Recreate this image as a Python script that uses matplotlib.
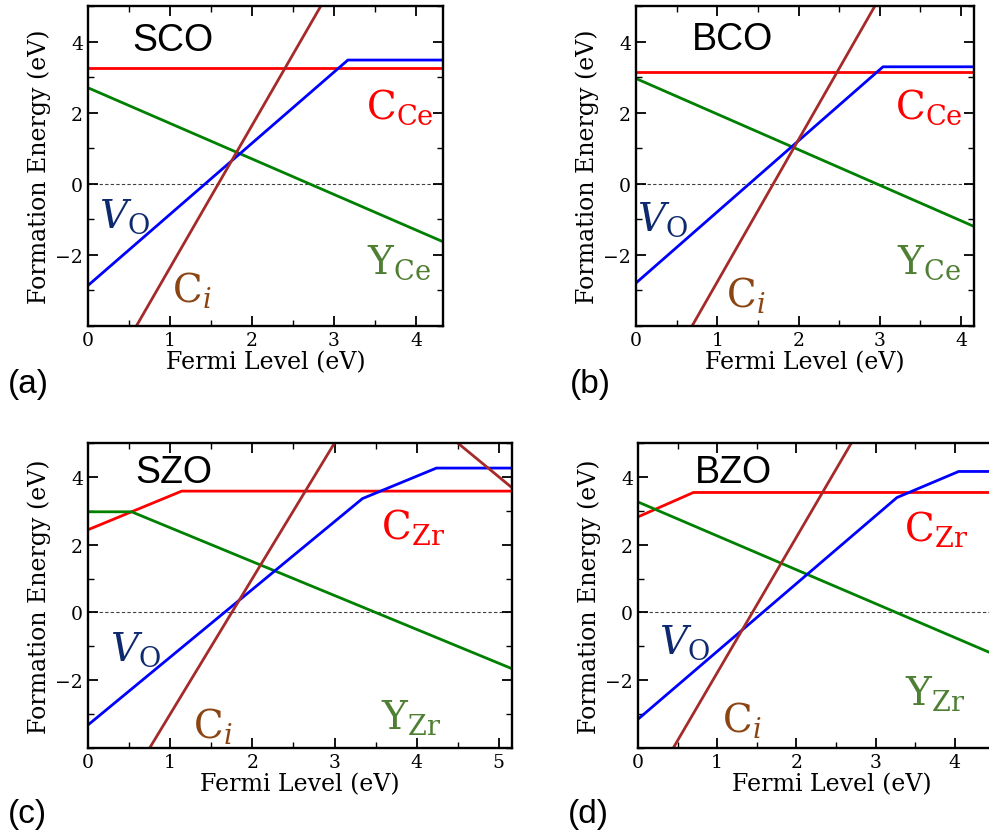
import numpy as np
import matplotlib
matplotlib.use('Agg')
import matplotlib.pyplot as plt
from matplotlib.ticker import MultipleLocator

plt.rcParams['font.family'] = 'DejaVu Serif'
plt.rcParams['mathtext.fontset'] = 'dejavuserif'

# ---- data (Fermi level in eV, formation energy in eV) ----
names = ['SCO', 'BCO', 'SZO', 'BZO']
letters = ['(a)', '(b)', '(c)', '(d)']
site = ['Ce', 'Ce', 'Zr', 'Zr']
xmax = [4.33, 4.16, 5.16, 4.9]

vo_x = [[0, 3.17, 4.33], [0, 3.04, 4.16], [0, 3.34, 4.24, 5.16], [0, 3.27, 4.05, 4.9]]
vo_y = [[-2.86, 3.48, 3.48], [-2.79, 3.29, 3.29], [-3.32, 3.36, 4.26, 4.26], [-3.15, 3.39, 4.16, 4.16]]

cs_x = [[0, 4.33], [0, 4.16], [0, 1.14, 5.16], [0, 0.70, 4.9]]
cs_y = [[3.25, 3.25], [3.14, 3.14], [2.44, 3.58, 3.58], [2.82, 3.54, 3.54]]

ci_x = [[0, 4.33], [0, 4.16], [0, 3.5, 5.16], [0, 4.9]]
ci_y = [[-6.36, 10.96], [-6.76, 9.88], [-7.0, 7.0, 3.68], [-5.78, 13.82]]

ys_x = [[0, 4.33], [0, 4.16], [0, 0.53, 5.16], [0, 4.9]]
ys_y = [[2.70, -1.63], [2.96, -1.20], [2.97, 2.97, -1.66], [3.26, -1.64]]

# label positions (data coords)
name_pos = [(1.04, 4.03), (1.19, 4.06), (1.04, 4.15), (1.20, 4.15)]
cs_lab = [(3.80, 2.17), (3.61, 2.17), (3.95, 2.55), (3.76, 2.49)]
vo_lab = [(0.44, -0.90), (0.33, -0.99), (0.58, -1.08), (0.58, -0.88)]
ci_lab = [(1.27, -2.96), (1.35, -3.10), (1.52, -3.32), (1.31, -3.14)]
ys_lab = [(3.79, -2.20), (3.61, -2.20), (3.93, -3.08), (3.75, -2.36)]

W, H = 989, 837
fig = plt.figure(figsize=(W / 100, H / 100), dpi=100)

# axes boxes in pixels: left, top, right, bottom
boxes = [(88, 7, 443, 327), (636, 7, 974, 327),
         (88, 444, 512, 749), (638, 444, 1026, 749)]
letter_pos = [(8, 385), (570, 385), (8, 815), (568, 815)]

for k in range(4):
    l, t, r, b = boxes[k]
    ax = fig.add_axes([l / W, 1 - b / H, (r - l) / W, (b - t) / H])
    ax.axhline(0, color='k', lw=0.8, ls='--', alpha=0.75, dashes=(3, 2))
    ax.plot(cs_x[k], cs_y[k], color='red', lw=2)
    ax.plot(ys_x[k], ys_y[k], color='green', lw=2)
    ax.plot(vo_x[k], vo_y[k], color='blue', lw=2)
    ax.plot(ci_x[k], ci_y[k], color='brown', lw=2)

    ax.set_xlim(0, xmax[k])
    ax.set_ylim(-4, 5)
    ax.set_yticks([-2, 0, 2, 4])
    ax.xaxis.set_major_locator(MultipleLocator(1))
    ax.xaxis.set_minor_locator(MultipleLocator(0.5))
    ax.yaxis.set_minor_locator(MultipleLocator(1))
    ax.tick_params(which='both', direction='in', top=True, right=True, labelsize=13.5)
    ax.tick_params(which='major', length=7, width=1.3)
    ax.tick_params(which='minor', length=4, width=1)
    for s in ax.spines.values():
        s.set_linewidth(1.7)
    ax.set_xlabel('Fermi Level (eV)', fontsize=17, labelpad=1)
    ax.set_ylabel('Formation Energy (eV)', fontsize=17, labelpad=3)

    ax.text(*name_pos[k], names[k], family='Liberation Sans', fontsize=27,
            ha='center', va='center')
    ax.text(*cs_lab[k], r'$\mathrm{C}_{\mathrm{%s}}$' % site[k], color='#ff0000',
            fontsize=28, ha='center', va='center')
    ax.text(*vo_lab[k], r'$V_{\mathrm{O}}$', color='#0e2a6e',
            fontsize=28, ha='center', va='center')
    ax.text(*ci_lab[k], r'$\mathrm{C}_i$', color='#8b4513',
            fontsize=28, ha='center', va='center')
    ax.text(*ys_lab[k], r'$\mathrm{Y}_{\mathrm{%s}}$' % site[k], color='#4e7f32',
            fontsize=28, ha='center', va='center')

    lx, ly = letter_pos[k]
    fig.text(lx / W, 1 - ly / H, letters[k], family='Liberation Sans',
             fontsize=24, ha='left', va='center')

fig.savefig('out.png', dpi=100)
